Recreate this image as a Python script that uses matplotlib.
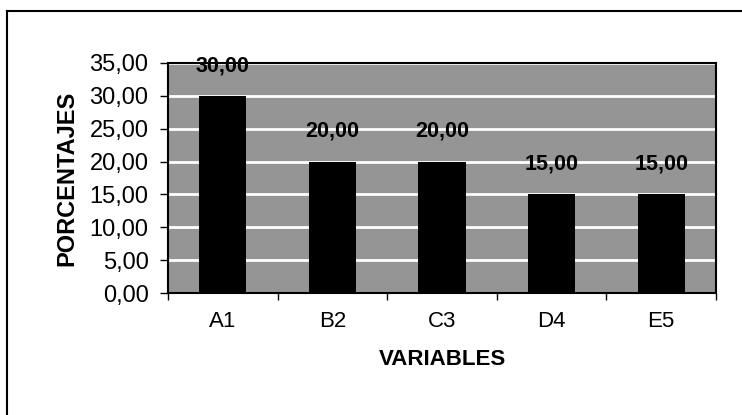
import matplotlib.pyplot as plt
from matplotlib.lines import Line2D
from matplotlib.ticker import FixedLocator, FuncFormatter

categories = ['A1', 'B2', 'C3', 'D4', 'E5']
porcentajes = [30.0, 20.0, 20.0, 15.0, 15.0]
y_ticks = [0, 5, 10, 15, 20, 25, 30, 35]

plt.rcParams['font.family'] = ['Liberation Sans', 'DejaVu Sans']

def coma(v, pos=None):
    return f'{v:.2f}'.replace('.', ',')

fig = plt.figure(figsize=(7.42, 4.15), dpi=100)
ax = fig.add_axes([168 / 742, 1 - 293 / 415, (716 - 168) / 742, (293 - 63) / 415])

x = range(len(categories))
ax.set_facecolor('#959595')
ax.bar(x, porcentajes, width=0.43, color='black', zorder=3)

for xi, v in zip(x, porcentajes):
    ax.text(xi, v + 3.0, coma(v), ha='center', va='bottom', fontsize=15.5,
            fontweight='bold', color='black', zorder=4)

ax.set_xlim(-0.5, len(categories) - 0.5)
ax.set_ylim(0, 35)
ax.set_yticks(y_ticks)
ax.yaxis.set_major_formatter(FuncFormatter(coma))
ax.grid(axis='y', color='white', linewidth=2, zorder=1)

# etiquetas en el centro, marcas en los limites de categoria (estilo Excel)
ax.set_xticks(list(x))
ax.set_xticklabels(categories)
ax.xaxis.set_minor_locator(FixedLocator([i - 0.5 for i in range(len(categories) + 1)]))
ax.tick_params(axis='x', which='major', length=0, pad=13, labelsize=16)
ax.tick_params(axis='x', which='minor', length=5, width=1)
ax.tick_params(axis='y', length=6, width=1, pad=8, labelsize=17)

for s in ax.spines.values():
    s.set_linewidth(1.5)
    s.set_color('black')

ax.set_xlabel('VARIABLES', fontsize=16, fontweight='bold', labelpad=12)
ax.set_ylabel('PORCENTAJES', fontsize=17, fontweight='bold', labelpad=8)

# marco exterior del grafico (solo se ven arriba e izquierda en el escaneo)
fig.add_artist(Line2D([7 / 742, 1], [1 - 11 / 415] * 2, color='black', linewidth=1.5))
fig.add_artist(Line2D([7 / 742] * 2, [0, 1 - 11 / 415], color='black', linewidth=1.5))

fig.savefig('out.png', dpi=100)
